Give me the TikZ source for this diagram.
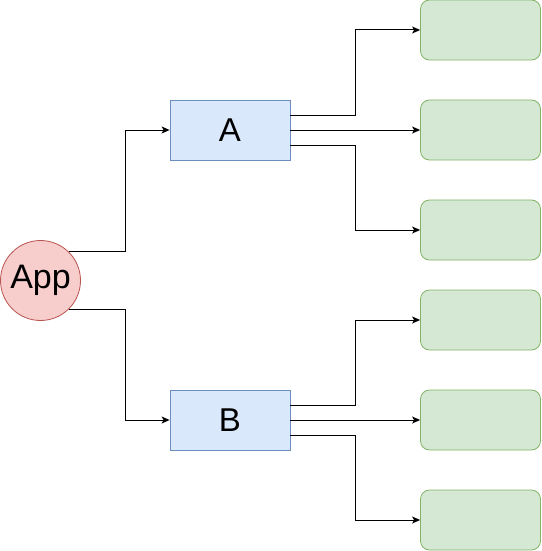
\documentclass[tikz,border=0pt]{standalone}
\usepackage{fontspec}
\setmainfont{Liberation Sans}
\usetikzlibrary{arrows.meta}
\definecolor{redfill}{HTML}{F8CECC}
\definecolor{redline}{HTML}{B85450}
\definecolor{bluefill}{HTML}{DAE8FC}
\definecolor{blueline}{HTML}{6C8EBF}
\definecolor{greenfill}{HTML}{D5E8D4}
\definecolor{greenline}{HTML}{82B366}
\tikzset{
  appnode/.style={circle, draw=redline, fill=redfill, minimum size=80pt, inner sep=0pt, line width=0.8pt, font=\fontsize{34}{38}\selectfont},
  midbox/.style={rectangle, draw=blueline, fill=bluefill, minimum width=120pt, minimum height=60pt, inner sep=0pt, line width=0.8pt, font=\fontsize{33}{38}\selectfont},
  leafbox/.style={rectangle, rounded corners=9pt, draw=greenline, fill=greenfill, minimum width=120pt, minimum height=60pt, inner sep=0pt, line width=0.8pt},
  conn/.style={draw=black, line width=1pt, -{Stealth[length=8pt,width=7pt,inset=2pt]}}
}
\begin{document}
\begin{tikzpicture}[x=1pt,y=-1pt]
\useasboundingbox (0,0) rectangle (541,551);
\node[appnode] (app) at (40.5,280.5) {App};
\node[midbox] (A) at (230,130) {A};
\node[midbox] (B) at (230,420) {B};
\node[leafbox] (g1) at (480.5,30) {};
\node[leafbox] (g2) at (480.5,130) {};
\node[leafbox] (g3) at (480.5,230) {};
\node[leafbox] (g4) at (480.5,320) {};
\node[leafbox] (g5) at (480.5,420) {};
\node[leafbox] (g6) at (480.5,520) {};
% App to A and B
\draw[conn] (app.45) -| (125,130) -- (A.west);
\draw[conn] (app.-45) -| (125,420) -- (B.west);
% A to leaves
\draw[conn] ([yshift=15pt]A.east) -- (355,115) |- (g1.west);
\draw[conn] (A.east) -- (g2.west);
\draw[conn] ([yshift=-15pt]A.east) -- (355,145) |- (g3.west);
% B to leaves
\draw[conn] ([yshift=15pt]B.east) -- (355,405) |- (g4.west);
\draw[conn] (B.east) -- (g5.west);
\draw[conn] ([yshift=-15pt]B.east) -- (355,435) |- (g6.west);
\end{tikzpicture}
\end{document}
